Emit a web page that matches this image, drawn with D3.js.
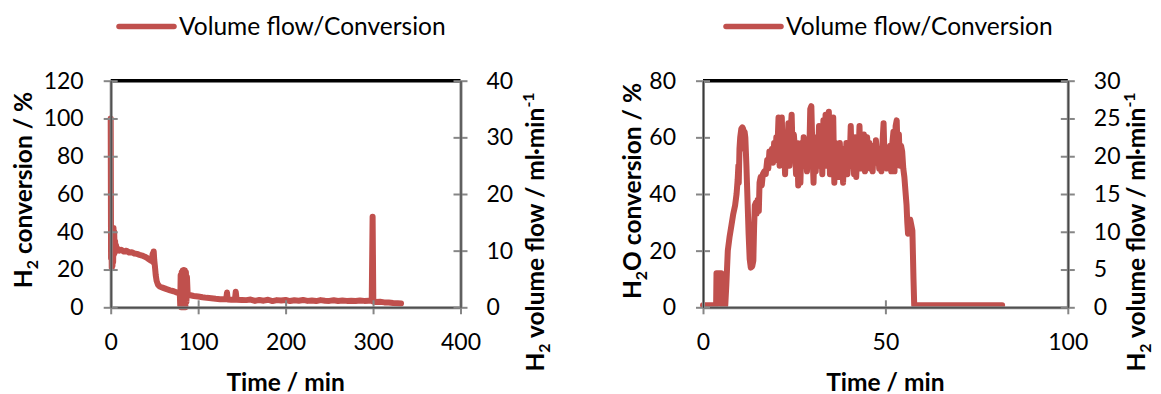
<!DOCTYPE html>
<html>
<head>
<meta charset="utf-8">
<script src="https://cdn.jsdelivr.net/npm/d3@7"></script>
<style>
  body { margin: 0; background: #fff; }
  svg { display: block; }
  text { font-family: Lato, "Open Sans", sans-serif; fill: #000; }
</style>
</head>
<body>
<svg id="chart" width="1161" height="394"></svg>
<script>
// Legend label shared by both panels
const seriesLabel = "Volume flow/Conversion";

// Panel A: H2 conversion over time (min, %)
const h2Time = [0, 0.4, 0.8, 1.2, 1.6, 2.0, 2.4, 2.8, 3.2, 3.6, 4.0, 4.5, 5.0, 5.5, 6.0, 7, 8, 10, 12, 15, 18, 21, 24, 27, 30, 33, 36, 39, 42, 45, 47, 48, 48.6, 49.2, 49.8, 50.5, 51.5, 52.5, 54, 56, 60, 64, 68, 72, 76, 79, 79.5, 80, 80.6, 81.2, 81.8, 82.4, 83, 83.6, 84.2, 84.8, 85.4, 86, 86.6, 87.2, 88, 90, 95, 100, 105, 110, 115, 120, 125, 130, 132, 133, 133.8, 138, 142, 143, 144, 150, 155, 160, 165, 170, 175, 180, 185, 190, 195, 200, 205, 210, 215, 220, 225, 230, 235, 240, 245, 250, 255, 260, 265, 270, 275, 280, 285, 290, 295, 298.5, 299.5, 300.3, 303, 308, 313, 318, 323, 328, 332];
const h2Conversion = [100, 26, 40, 21, 42, 22, 41, 24, 42, 28, 40, 29, 35, 30, 33, 30, 31, 30, 30.5, 29.5, 30, 29, 29.2, 28.5, 28.3, 27.8, 27.4, 26.8, 26, 25, 24.5, 28.5, 24, 29.5, 25, 22, 17, 14, 12, 11, 10.3, 9.6, 9, 8.5, 7.8, 7.4, 1, 17, 0, 18.5, 2, 19.5, 0, 19.8, 1, 19.5, 0, 18.5, 3, 16, 7, 6.5, 6, 5.7, 5.3, 5, 4.8, 4.5, 4.3, 4.2, 4.2, 7.8, 4.1, 4, 4, 8.2, 4, 3.9, 3.8, 4.1, 3.4, 3.9, 3.5, 4.0, 3.3, 3.8, 3.6, 3.9, 3.3, 3.7, 3.5, 3.9, 3.4, 3.6, 3.3, 3.8, 3.5, 3.4, 3.7, 3.3, 3.6, 3.4, 3.5, 3.3, 3.6, 3.4, 3.5, 3.4, 48, 3, 2.8, 2.9, 2.6, 2.5, 2.3, 2.2, 2.0];
const h2TimeTicks = [0, 100, 200, 300, 400];
const h2ConversionTicks = [0, 20, 40, 60, 80, 100, 120];
const h2FlowTicks = [0, 10, 20, 30, 40];

// Panel B: H2O conversion over time (min, %)
const h2oTime = [0, 3.6, 3.7, 5.0, 5.2, 6.1, 6.4, 6.8, 7.3, 7.8, 8.3, 8.8, 9.2, 9.5, 9.7, 9.8, 10.0, 10.2, 10.5, 10.8, 11.0, 11.2, 11.4, 11.6, 11.9, 12.2, 12.5, 12.8, 13.1, 13.5, 13.8, 14.0, 14.2, 14.5, 14.7, 15.0, 15.3, 15.5, 15.8, 16.1, 16.4, 16.8, 17.2, 17.6, 17.9, 18.2, 18.6, 18.9, 19.2, 19.5, 19.8, 20.1, 20.4, 20.7, 21.0, 21.3, 21.6, 21.9, 22.2, 22.5, 22.8, 23.1, 23.4, 23.7, 24.0, 24.3, 24.6, 24.9, 25.2, 25.5, 25.8, 26.1, 26.4, 26.7, 27.0, 27.3, 27.6, 27.9, 28.2, 28.5, 28.8, 29.1, 29.4, 29.7, 30.0, 30.3, 30.6, 30.9, 31.2, 31.5, 31.8, 32.1, 32.4, 32.7, 33.0, 33.3, 33.6, 33.9, 34.2, 34.5, 34.8, 35.1, 35.4, 35.7, 36.0, 36.3, 36.6, 36.9, 37.2, 37.5, 37.8, 38.1, 38.4, 38.7, 39.0, 39.3, 39.6, 39.9, 40.2, 40.5, 40.8, 41.1, 41.4, 41.7, 42.0, 42.3, 42.6, 42.9, 43.2, 43.5, 43.8, 44.1, 44.4, 44.7, 45.0, 45.3, 45.6, 45.9, 46.2, 46.5, 46.8, 47.1, 47.4, 47.7, 48.0, 48.3, 48.6, 48.9, 49.2, 49.5, 49.8, 50.1, 50.4, 50.7, 51.0, 51.3, 51.6, 51.9, 52.2, 52.5, 52.8, 53.1, 53.4, 53.7, 54.0, 54.3, 54.6, 54.9, 55.2, 55.5, 55.8, 56.0, 56.2, 56.5, 56.8, 57.1, 57.4, 57.7, 57.9, 60, 65, 70, 75, 82];
const h2oConversion = [0.7, 0.7, 12, 12, 0.7, 0.7, 8, 20, 25, 29, 33, 36, 40, 45, 50, 44, 56, 60, 63, 63.5, 63, 56, 62, 60, 50, 38, 26, 17, 14, 14.5, 16.5, 28, 36, 37, 33, 38, 34, 44, 46, 43, 47, 48, 47, 52, 49, 55, 53, 56, 51, 58, 52, 60, 56, 67, 50, 62, 67, 52, 58, 47, 60, 54, 65, 50, 62, 68, 53, 61, 56, 47, 58, 43, 55, 44, 58, 50, 60, 52, 57, 48, 58, 52, 70, 71, 55, 44, 60, 48, 57, 52, 64, 50, 58, 47, 66, 52, 68, 50, 62, 69, 47, 63, 55, 67, 44, 58, 52, 57, 46, 58, 50, 56, 44, 55, 49, 58, 47, 55, 51, 64, 50, 57, 47, 60, 46, 56, 52, 64, 49, 58, 53, 61, 48, 57, 60, 52, 58, 49, 55, 48, 57, 51, 59, 53, 56, 49, 54, 48, 58, 65, 51, 55, 49, 56, 52, 57, 48, 58, 62, 48, 64, 66, 52, 61, 50, 57, 55, 49, 46, 41, 36, 30, 26, 30, 31, 29, 27, 10, 0.7, 0.7, 0.7, 0.7, 0.7, 0.7];
const h2oTimeTicks = [0, 50, 100];
const h2oConversionTicks = [0, 20, 40, 60, 80];
const h2oFlowTicks = [0, 5, 10, 15, 20, 25, 30];

const svg = d3.select("#chart");
const RED = "#C0504D";
const AXIS = "#868686";
const TICK_FONT = 23;
const TITLE_FONT = 24.5;
const LEGEND_FONT = 24.5;

function addTitleParts(g, parts) {
  // parts: [text, kind] where kind is "", "sub", "after-sub" or "sup"
  parts.forEach(([txt, kind]) => {
    const t = g.append("tspan").text(txt);
    if (kind === "sub") t.attr("font-size", "65%").attr("dy", 6);
    if (kind === "sup") t.attr("font-size", "65%").attr("dy", -10);
    if (kind === "after-sub") t.attr("dy", -6);
  });
}

function drawPanel(p) {
  const g = svg.append("g");
  const x = d3.scaleLinear().domain(p.xDomain).range([p.left, p.right]);
  const yL = d3.scaleLinear().domain(p.leftDomain).range([p.bottom, p.top]);
  const yR = d3.scaleLinear().domain(p.rightDomain).range([p.bottom, p.top]);

  // top border of the plot area
  g.append("line")
    .attr("x1", p.left).attr("x2", p.right)
    .attr("y1", p.top).attr("y2", p.top)
    .attr("stroke", "#000").attr("stroke-width", 3.5);

  // series
  const pts = p.time.map((t, i) => ({ t, v: p.values[i] }));
  g.append("path")
    .datum(pts)
    .attr("fill", "none")
    .attr("stroke", RED)
    .attr("stroke-width", 6)
    .attr("stroke-linejoin", "round")
    .attr("stroke-linecap", "round")
    .attr("d", d3.line().x(d => x(d.t)).y(d => yL(d.v)));

  const styleAxis = (sel, orient) => {
    sel.select(".domain").attr("stroke", AXIS).attr("stroke-width", 3);
    sel.selectAll(".tick line").attr("stroke", AXIS).attr("stroke-width", 2);
    if (orient === "v") sel.selectAll(".tick line").attr("x1", -7).attr("x2", 7);
    else sel.selectAll(".tick line").attr("y1", -7).attr("y2", 7);
    sel.selectAll(".tick text").attr("font-size", TICK_FONT).attr("fill", "#000");
    // thin dark core along the axis line
    sel.append("path").attr("d", sel.select(".domain").attr("d"))
      .attr("fill", "none").attr("stroke", "#3a3a3a").attr("stroke-width", 1);
  };

  const ax = g.append("g").attr("transform", `translate(0,${p.bottom})`)
    .call(d3.axisBottom(x).tickValues(p.xTicks).tickSize(7).tickSizeOuter(0).tickPadding(19));
  styleAxis(ax, "h");

  const al = g.append("g").attr("transform", `translate(${p.left},0)`)
    .call(d3.axisLeft(yL).tickValues(p.leftTicks).tickSize(7).tickSizeOuter(0).tickPadding(20));
  styleAxis(al, "v");

  const ar = g.append("g").attr("transform", `translate(${p.right},0)`)
    .call(d3.axisRight(yR).tickValues(p.rightTicks).tickSize(7).tickSizeOuter(0).tickPadding(19));
  styleAxis(ar, "v");

  // axis titles
  g.append("text")
    .attr("x", (p.left + p.right) / 2).attr("y", 390.5)
    .attr("text-anchor", "middle").attr("font-weight", "bold").attr("font-size", TITLE_FONT)
    .text("Time / min");

  const lt = g.append("text")
    .attr("transform", `translate(${p.leftTitleX},${p.leftTitleY}) rotate(-90)`)
    .attr("text-anchor", "middle").attr("font-weight", "bold").attr("font-size", TITLE_FONT);
  addTitleParts(lt, p.leftTitle);

  const rt = g.append("text")
    .attr("transform", `translate(${p.rightTitleX},${p.rightTitleY}) rotate(-90)`)
    .attr("text-anchor", "middle").attr("font-weight", "bold").attr("font-size", TITLE_FONT);
  addTitleParts(rt, [["H", ""], ["2", "sub"], [" volume flow / ml\u00B7min", "after-sub"], ["-1", "sup"]]);

  // legend
  g.append("line")
    .attr("x1", p.legendX).attr("x2", p.legendX + 55)
    .attr("y1", 26.5).attr("y2", 26.5)
    .attr("stroke", RED).attr("stroke-width", 5.5).attr("stroke-linecap", "round");
  g.append("text")
    .attr("x", p.legendX + 60).attr("y", 35)
    .attr("font-size", LEGEND_FONT)
    .text(seriesLabel);
}

drawPanel({
  left: 110.7, right: 460.5, top: 80.7, bottom: 307.3,
  xDomain: [0, 400], leftDomain: [0, 120], rightDomain: [0, 40],
  xTicks: h2TimeTicks, leftTicks: h2ConversionTicks, rightTicks: h2FlowTicks,
  time: h2Time, values: h2Conversion,
  leftTitle: [["H", ""], ["2", "sub"], [" conversion / %", "after-sub"]],
  leftTitleX: 31.5, leftTitleY: 190,
  rightTitleX: 544, rightTitleY: 232,
  legendX: 119
});

drawPanel({
  left: 703, right: 1067.8, top: 80.7, bottom: 307.3,
  xDomain: [0, 100], leftDomain: [0, 80], rightDomain: [0, 30],
  xTicks: h2oTimeTicks, leftTicks: h2oConversionTicks, rightTicks: h2oFlowTicks,
  time: h2oTime, values: h2oConversion,
  leftTitle: [["H", ""], ["2", "sub"], ["O conversion / %", "after-sub"]],
  leftTitleX: 640.5, leftTitleY: 191,
  rightTitleX: 1145, rightTitleY: 232,
  legendX: 726
});
</script>
</body>
</html>
